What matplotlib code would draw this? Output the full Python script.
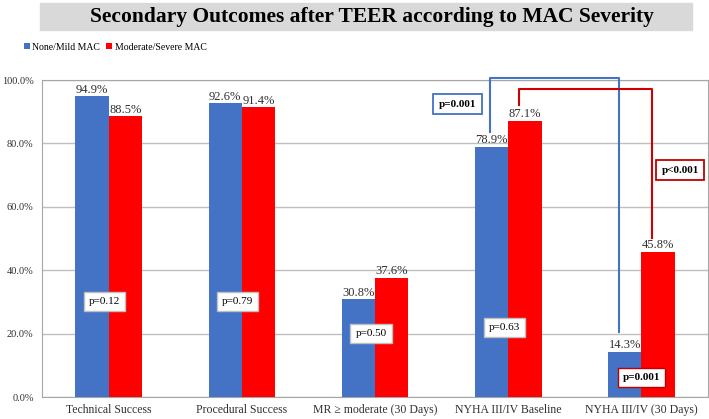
import matplotlib.pyplot as plt
import numpy as np

# data
categories = ['Technical Success', 'Procedural Success', 'MR \u2265 moderate (30 Days)',
              'NYHA III/IV Baseline', 'NYHA III/IV (30 Days)']
none_mild = [94.9, 92.6, 30.8, 78.9, 14.3]
mod_severe = [88.5, 91.4, 37.6, 87.1, 45.8]
p_labels = ['p=0.12', 'p=0.79', 'p=0.50', 'p=0.63', 'p=0.001']
p_heights = [30, 30, 20, 22, 6]
series_names = ['None/Mild MAC', 'Moderate/Severe MAC']

BLUE = '#4472C4'
RED = '#FF0000'
SERIF = 'Liberation Serif'

fig = plt.figure(figsize=(7.09, 4.19), dpi=100)
ax = fig.add_axes([42/709, 1 - 397/419, 666/709, 317/419])

x = np.arange(len(categories))
w = 0.25
b1 = ax.bar(x - w/2, none_mild, w, color=BLUE, label=series_names[0], zorder=3)
b2 = ax.bar(x + w/2, mod_severe, w, color=RED, label=series_names[1], zorder=3)

for rects, vals in [(b1, none_mild), (b2, mod_severe)]:
	for r, v in zip(rects, vals):
		ax.text(r.get_x() + r.get_width()/2, v + 0.2, '%.1f%%' % v, ha='center', va='bottom',
				fontsize=9, family=SERIF, color='#303030', zorder=5)

# p-value boxes inside the bar pairs
for i, (lab, h) in enumerate(zip(p_labels, p_heights)):
	bold = i == len(p_labels) - 1
	ax.text(x[i] - (0 if bold else 0.03), h, lab, ha='center', va='center', fontsize=8, family=SERIF,
			fontweight='bold' if bold else 'normal', zorder=6,
			bbox=dict(boxstyle='square,pad=0.45', fc='white',
					  ec='#C00000' if bold else '#BFBFBF', lw=1.0))

# blue bracket: baseline vs 30 days, none/mild
ax.plot([3 - w/2 - 0.01, 3 - w/2 - 0.01, 4 - w/2 - 0.04, 4 - w/2 - 0.04],
		[83.6, 100.6, 100.6, 20.5], color=BLUE, lw=1.5, clip_on=False, zorder=7)
# red bracket: baseline vs 30 days, moderate/severe
ax.plot([3 + 0.08, 3 + 0.08, 4 + 0.08, 4 + 0.08], [92, 97.2, 97.2, 50.2],
		color='#D00000', lw=1.5, clip_on=False, zorder=7)

ax.text(2.62, 92.4, 'p=0.001', ha='center', va='center', fontsize=8, family=SERIF,
		fontweight='bold', zorder=8,
		bbox=dict(boxstyle='square,pad=0.5', fc='white', ec=BLUE, lw=1.3))
ax.text(4.29, 71.6, 'p<0.001', ha='center', va='center', fontsize=8, family=SERIF,
		fontweight='bold', zorder=8,
		bbox=dict(boxstyle='square,pad=0.5', fc='white', ec='#C00000', lw=1.3))

ax.set_xlim(-0.5, 4.5)
ax.set_ylim(0, 100)
ax.set_yticks(np.arange(0, 101, 20))
ax.set_yticklabels(['%.1f%%' % t for t in np.arange(0, 101, 20)], family=SERIF, fontsize=7.5,
				   color='#303030')
ax.set_xticks(x)
ax.set_xticklabels(categories, family=SERIF, fontsize=8.5, color='#303030')
ax.tick_params(axis='y', length=0, pad=6)
ax.tick_params(axis='x', length=0, pad=5)
ax.grid(axis='y', color='#BFBFBF', lw=1.0, zorder=0)
for s in ['left', 'bottom', 'right', 'top']:
	ax.spines[s].set_color('#A6A6A6')

leg = fig.legend(loc='center left', bbox_to_anchor=(15/709, 1 - 47/419), ncol=2, frameon=False,
				 prop={'family': SERIF, 'size': 7}, handlelength=0.6, handleheight=0.6,
				 handletextpad=0.3, columnspacing=0.6)

# title on grey band
fig.patches.append(plt.Rectangle((40/709, 1 - 30/419), 652/709, 27/419, transform=fig.transFigure,
								 color='#D9D9D9', zorder=0))
fig.text(372/709, 1 - 17/419, 'Secondary Outcomes after TEER according to MAC Severity',
		 ha='center', va='center', fontsize=15.5, fontweight='bold', family=SERIF)

fig.savefig('out.png', dpi=100)
